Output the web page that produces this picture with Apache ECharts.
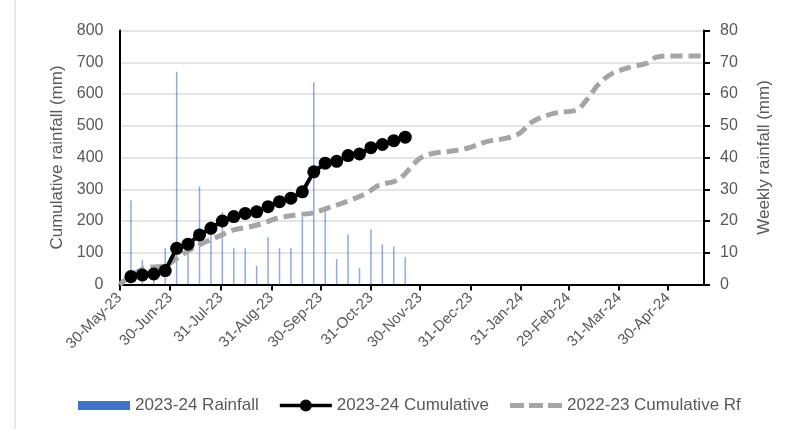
<!DOCTYPE html>
<html>
<head>
<meta charset="utf-8">
<script src="https://cdn.jsdelivr.net/npm/echarts@6/dist/echarts.min.js"></script>
<style>
  html, body { margin: 0; padding: 0; background: #fff; }
  #chart { width: 793px; height: 429px; }
</style>
</head>
<body>
<div id="chart"></div>
<script>
// weekly data, season 2023-24
const weekDates = [
  '2023-06-06', '2023-06-13', '2023-06-20', '2023-06-27', '2023-07-04', '2023-07-11', '2023-07-18',
  '2023-07-25', '2023-08-01', '2023-08-08', '2023-08-15', '2023-08-22', '2023-08-29', '2023-09-05',
  '2023-09-12', '2023-09-19', '2023-09-26', '2023-10-03', '2023-10-10', '2023-10-17', '2023-10-24',
  '2023-10-31', '2023-11-07', '2023-11-14', '2023-11-21'
]
const weeklyRain = [26.5, 7.7, 3.6, 11.4, 67, 12, 30.9, 20, 22.8, 11.5, 11.3, 5.9, 14.9, 11.4,
  11.4, 21.3, 63.7, 23.2, 8.0, 15.8, 5.2, 17.4, 12.6, 11.9, 8.6]
const cum2324 = [25, 30, 33, 44, 114, 127, 156, 177, 200, 214, 224, 229, 245, 261,
  272, 292, 355, 382, 388, 406, 411, 431, 441, 453, 464]

// previous season cumulative
const prevDates = [
  '2023-05-30', '2023-06-14', '2023-06-22', '2023-06-28', '2023-07-04', '2023-07-12', '2023-07-20',
  '2023-07-29', '2023-08-08', '2023-08-18', '2023-08-26', '2023-09-03', '2023-09-15', '2023-09-26',
  '2023-10-04', '2023-10-16', '2023-10-28', '2023-11-05', '2023-11-14', '2023-11-18', '2023-11-24',
  '2023-11-30', '2023-12-08', '2023-12-16', '2023-12-29', '2024-01-10', '2024-01-22', '2024-01-30',
  '2024-02-07', '2024-02-20', '2024-03-05', '2024-03-11', '2024-03-19', '2024-03-27', '2024-04-08',
  '2024-04-17', '2024-04-23', '2024-05-03', '2024-05-21'
]
const cum2223 = [0, 51, 56, 61, 82, 109, 130, 150, 172, 182, 193, 208, 219, 226,
  240, 261, 287, 313, 324, 334, 366, 397, 413, 418, 429, 450, 461, 476,
  513, 539, 550, 581, 634, 665, 686, 697, 716, 720, 720]

const tickDates = [
  '2023-05-30', '2023-06-30', '2023-07-31', '2023-08-31', '2023-09-30', '2023-10-31',
  '2023-11-30', '2023-12-31', '2024-01-31', '2024-02-29', '2024-03-31', '2024-04-30'
]
const months = ['Jan', 'Feb', 'Mar', 'Apr', 'May', 'Jun', 'Jul', 'Aug', 'Sep', 'Oct', 'Nov', 'Dec']

function ts (s) {
  const p = s.split('-')
  return new Date(+p[0], +p[1] - 1, +p[2]).getTime()
}
function fmt (v) {
  const d = new Date(v)
  return d.getDate() + '-' + months[d.getMonth()] + '-' + String(d.getFullYear()).slice(2)
}

const FONT = 'Liberation Sans'
const TXT = '#595959'
const ticks = tickDates.map(ts)

const chart = echarts.init(document.getElementById('chart'))
chart.setOption({
  animation: false,
  backgroundColor: '#fff',
  textStyle: { fontFamily: FONT },
  grid: { left: 119.5, right: 89, top: 30.5, bottom: 144.5, containLabel: false },
  legend: {
    left: 73,
    top: 392,
    itemWidth: 52,
    itemHeight: 12,
    itemGap: 21,
    data: [
      {
        name: '2023-24 Rainfall',
        icon: 'path://M0,0h52v9h-52z',
        itemStyle: { color: '#4472c4', opacity: 1 }
      },
      {
        name: '2023-24 Cumulative',
        // thick line with one marker in the middle
        icon: 'path://M0,4.2h21v3.6h-21z M31,4.2h21v3.6h-21z M20,6a6,6 0 1,1 12,0a6,6 0 1,1 -12,0z',
        itemStyle: { color: '#000' }
      },
      {
        name: '2022-23 Cumulative Rf',
        // three grey dashes like Excel's legend key
        icon: 'path://M0,0h14v5h-14z M19,0h14v5h-14z M38,0h14v5h-14z',
        itemStyle: { color: '#a5a5a5' }
      }
    ],
    textStyle: { color: TXT, fontSize: 17, fontFamily: FONT }
  },
  xAxis: {
    // dates as millisecond values, ticks at Excel's month steps
    type: 'value',
    min: ts('2023-05-30'),
    max: ts('2024-05-22'),
    axisLine: { onZero: false, lineStyle: { color: '#000', width: 2 } },
    axisTick: { show: true, length: 6, lineStyle: { color: '#000', width: 2 }, customValues: ticks },
    axisLabel: {
      customValues: ticks,
      rotate: 45,
      color: TXT,
      fontSize: 15,
      fontFamily: FONT,
      margin: 11,
      formatter: v => fmt(v)
    },
    splitLine: { show: false }
  },
  yAxis: [
    {
      type: 'value',
      min: 0,
      max: 800,
      interval: 100,
      name: 'Cumulative rainfall (mm)',
      nameLocation: 'middle',
      nameRotate: 90,
      nameGap: 52,
      nameTextStyle: { color: TXT, fontSize: 17, fontFamily: FONT },
      axisLine: { show: true, lineStyle: { color: '#000', width: 2 } },
      axisTick: { show: false },
      axisLabel: { color: TXT, fontSize: 16, fontFamily: FONT, margin: 16 },
      splitLine: { show: true, lineStyle: { color: '#dcdcdc', width: 1.5 } }
    },
    {
      type: 'value',
      min: 0,
      max: 80,
      interval: 10,
      position: 'right',
      name: 'Weekly rainfall (mm)',
      nameLocation: 'middle',
      nameRotate: 90,
      nameGap: 52,
      nameTextStyle: { color: TXT, fontSize: 17, fontFamily: FONT },
      axisLine: { show: true, lineStyle: { color: '#000', width: 2 } },
      axisTick: { show: true, inside: false, length: 6, lineStyle: { color: '#000', width: 2 } },
      axisLabel: { color: TXT, fontSize: 16, fontFamily: FONT, margin: 16 },
      splitLine: { show: false }
    }
  ],
  series: [
    {
      name: '2023-24 Rainfall',
      type: 'bar',
      yAxisIndex: 1,
      barWidth: 1.5,
      itemStyle: { color: '#4472c4', opacity: 0.6 },
      data: weekDates.map((d, i) => [ts(d), weeklyRain[i]]),
      z: 1
    },
    {
      name: '2022-23 Cumulative Rf',
      type: 'line',
      smooth: 0.35,
      showSymbol: false,
      symbol: 'none',
      lineStyle: { color: '#a5a5a5', width: 5, type: [12, 6] },
      itemStyle: { color: '#a5a5a5' },
      data: prevDates.map((d, i) => [ts(d), cum2223[i]]),
      z: 2
    },
    {
      name: '2023-24 Cumulative',
      type: 'line',
      symbol: 'circle',
      symbolSize: 13,
      lineStyle: { color: '#000', width: 4 },
      itemStyle: { color: '#000' },
      data: weekDates.map((d, i) => [ts(d), cum2324[i]]),
      z: 3
    }
  ],
  graphic: [
    { type: 'line', shape: { x1: 15, y1: 0, x2: 15, y2: 429 }, style: { stroke: '#e0e0e0', lineWidth: 1.5 } }
  ]
})
</script>
</body>
</html>
